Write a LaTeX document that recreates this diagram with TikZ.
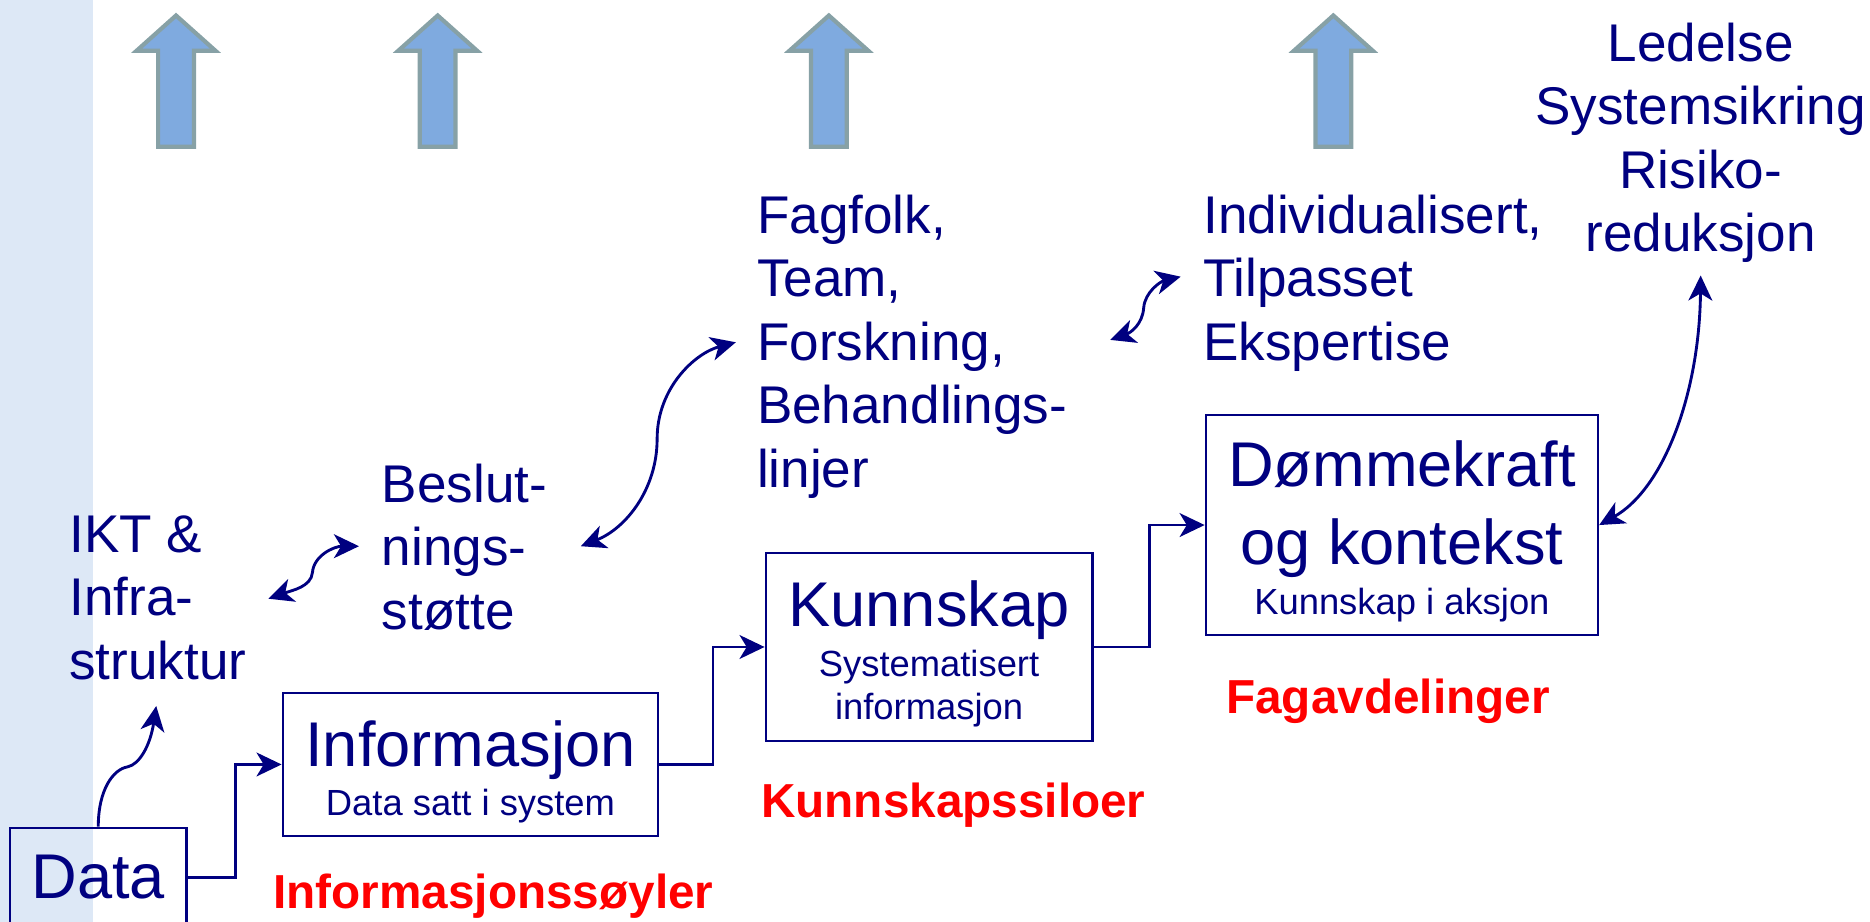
\documentclass[tikz,border=0pt]{standalone}
\usepackage{fontspec}
\setmainfont{Liberation Sans}
\usetikzlibrary{arrows.meta}
\definecolor{navy}{RGB}{0,0,128}
\definecolor{stripbg}{RGB}{221,232,246}
\definecolor{upfill}{RGB}{127,170,223}
\definecolor{upline}{RGB}{135,161,166}
\definecolor{redlab}{RGB}{255,0,0}
\begin{document}
\begin{tikzpicture}[x=1pt,y=-1pt,
  conn/.style={draw=navy, line width=2.4pt, -{Stealth[length=21pt,width=20pt,inset=6pt]}},
  dconn/.style={draw=navy, line width=2.4pt, {Stealth[length=21pt,width=20pt,inset=6pt]}-{Stealth[length=21pt,width=20pt,inset=6pt]}},
  box/.style={draw=navy, line width=1.8pt, rectangle, inner sep=0pt},
  freetext/.style={text=navy, font=\fontsize{44.5}{53.3}\selectfont, inner sep=0pt, align=left, anchor=north west},
  bigtext/.style={text=navy, font=\fontsize{53}{60}\selectfont, inner sep=0pt, anchor=base},
  smalltext/.style={text=navy, font=\fontsize{30.5}{36}\selectfont, inner sep=0pt, anchor=base},
  redtext/.style={text=redlab, font=\bfseries\fontsize{40}{46}\selectfont, inner sep=0pt, anchor=base west},
  uparrow/.style={fill=upfill, draw=upline, line width=3.5pt, line join=miter}]
\useasboundingbox (0,0) rectangle (1568,773);
\fill[stripbg] (0,0) rectangle (78,773);
% up arrows
\foreach \cx in {147.6,367,695,1118}{
  \draw[uparrow] (\cx,13) -- (\cx+33,42.5) -- (\cx+15,42.5) -- (\cx+15,123)
     -- (\cx-15,123) -- (\cx-15,42.5) -- (\cx-33,42.5) -- cycle;
}
% boxes
\node[box, minimum width=148pt, minimum height=83pt, text=navy, font=\fontsize{53}{60}\selectfont] (data) at (82.4,735.5) {Data};
\node[box, minimum width=315pt, minimum height=120pt] (info) at (394.5,641) {};
\node[box, minimum width=274pt, minimum height=157pt] (kunn) at (779,542.5) {};
\node[box, minimum width=329pt, minimum height=184.5pt] (dom) at (1175.5,440.25) {};
% box texts
\node[bigtext] (info-a) at (394.5,642.3) {Informasjon};
\node[smalltext] (info-b) at (394.5,684.2) {Data satt i system};
\node[bigtext] (kunn-a) at (779,525.5) {Kunnskap};
\node[smalltext] (kunn-b) at (779,567) {Systematisert};
\node[smalltext] (kunn-c) at (779,603.7) {informasjon};
\node[bigtext] (dom-a) at (1175.5,408) {Dømmekraft};
\node[bigtext] (dom-b) at (1175.5,473) {og kontekst};
\node[smalltext] (dom-c) at (1175.5,515) {Kunnskap i aksjon};
% free texts
\node[freetext] (ikt) at (58,432) {IKT \&\\Infra-\\struktur};
\node[freetext] (besl) at (320,388.5) {Beslut-\\nings-\\støtte};
\node[freetext] (fag) at (634.6,163) {Fagfolk,\\Team,\\Forskning,\\Behandlings-\\linjer};
\node[freetext] (indiv) at (1008.8,163) {Individualisert,\\Tilpasset\\Ekspertise};
\node[freetext, align=center, anchor=north] (led) at (1426,18.8) {Ledelse\\Systemsikring\\Risiko-\\reduksjon};
% red labels
\node[redtext] (lab1) at (229,762) {Informasjonssøyler};
\node[redtext] (lab2) at (638,685.6) {Kunnskapssiloer};
\node[redtext] (lab3) at (1028,598) {Fagavdelinger};
% connector ends
\coordinate (ikt-tip) at (131,592);
\coordinate (ikt-r) at (225,502);
\coordinate (besl-l) at (301,458);
\coordinate (besl-r) at (487,458);
\coordinate (fag-l) at (617,287);
\coordinate (fag-r) at (931,285);
\coordinate (indiv-l) at (990,232);
\coordinate (led-b) at (1426,231);
% elbow connectors
\draw[conn] (data.east) -- ++(40,0) |- (info.west);
\draw[conn] (info.east) -- ++(45,0) |- (kunn.west);
\draw[conn] (kunn.east) -- ++(47,0) |- (dom.west);
% curved connectors
\draw[conn] (data.north) .. controls (82.4,662) and (95,645) .. (107,643)
   .. controls (117,641) and (126,625) .. (ikt-tip);
\draw[dconn] (ikt-r) .. controls (245,495) and (261,492) .. (262,480)
   .. controls (263,466) and (280,458) .. (besl-l);
\draw[dconn] (besl-r) .. controls (525,443) and (551,410) .. (551,368)
   .. controls (551,325) and (583,296) .. (fag-l);
\draw[dconn] (fag-r) .. controls (948,279) and (958,272) .. (959,258)
   .. controls (960,245) and (973,236) .. (indiv-l);
\draw[dconn] (dom.east) .. controls (1395,410) and (1425,330) .. (led-b);
\end{tikzpicture}
\end{document}
